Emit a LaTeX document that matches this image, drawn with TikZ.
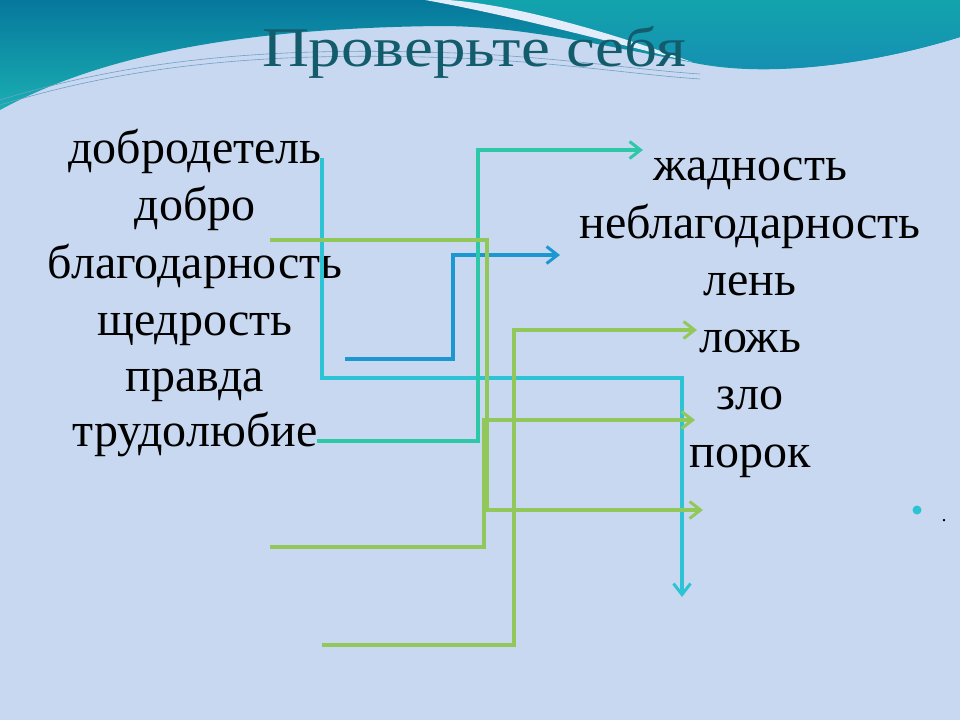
\documentclass[tikz,border=0pt]{standalone}
\usepackage{fontspec}
\setmainfont{Liberation Serif}
\usetikzlibrary{arrows.meta}
\definecolor{bgblue}{RGB}{200,216,240}
\definecolor{seatop}{RGB}{6,120,156}
\definecolor{seabot}{RGB}{26,174,178}
\definecolor{searighttop}{RGB}{18,164,172}
\definecolor{searightbot}{RGB}{22,140,180}
\definecolor{bandwhite}{RGB}{226,236,250}
\definecolor{thinline}{RGB}{110,160,200}
\definecolor{titleteal}{RGB}{18,92,108}
\definecolor{lcyan}{RGB}{44,196,212}
\definecolor{lteal}{RGB}{44,200,168}
\definecolor{lblue}{RGB}{28,152,208}
\definecolor{lgreen}{RGB}{146,200,90}
\begin{document}
\begin{tikzpicture}[x=1pt,y=-1pt,
  word/.style={anchor=base,inner sep=0pt,font=\fontsize{48}{56}\selectfont},
  link/.style={line width=3.5pt,-{Straight Barb[length=11pt,width=17pt,line width=3pt]}}]
\useasboundingbox (0,0) rectangle (960,720);

% background and sea wave
\fill[bgblue] (0,0) rectangle (960,720);
\shade[top color=seatop,bottom color=seabot] (0,0) -- (960,0) -- (960,37)
  .. controls (880,62) and (770,80) .. (690,62)
  .. controls (600,45) and (520,26) .. (440,26)
  .. controls (260,28) and (110,50) .. (0,110) -- cycle;
\shade[top color=searighttop,bottom color=searightbot] (430,0)
  .. controls (520,12) and (620,40) .. (690,60)
  .. controls (770,80) and (880,62) .. (960,37) -- (960,0) -- cycle;
\fill[bandwhite] (425,0) .. controls (520,17) and (620,45) .. (692,62)
  .. controls (620,36) and (520,5) .. (448,0) -- cycle;
\draw[thinline,line width=0.6pt] (0,100) .. controls (150,54) and (300,46) .. (480,54)
  .. controls (580,60) and (640,70) .. (700,74);
\draw[thinline,line width=0.6pt] (0,105) .. controls (150,59) and (300,51) .. (480,59)
  .. controls (580,65) and (640,75) .. (700,79);

\node[anchor=base,inner sep=0pt,text=titleteal,font=\fontsize{56}{64}\selectfont] (title) at (474,66) {\scalebox{1.16}[1]{Проверьте себя}};

% left column
\node[word] (l1) at (195,163) {добродетель};
\node[word] (l2) at (195,220) {добро};
\node[word] (l3) at (195,278) {благодарность};
\node[word] (l4) at (195,335) {щедрость};
\node[word] (l5) at (195,391) {правда};
\node[word] (l6) at (195,446) {трудолюбие};

% right column
\node[word] (r1) at (750,180) {жадность};
\node[word] (r2) at (750,238) {неблагодарность};
\node[word] (r3) at (750,295) {лень};
\node[word] (r4) at (750,352) {ложь};
\node[word] (r5) at (750,409) {зло};
\node[word] (r6) at (750,467) {порок};

\fill[lcyan] (917,510) circle (4.5);
\node[anchor=base,inner sep=0pt,font=\fontsize{20}{24}\selectfont] (dot) at (944,521) {.};

% connectors
\coordinate (a1) at (322,158); \coordinate (a2) at (682,597);
\coordinate (b1) at (317,441); \coordinate (b2) at (643,150);
\coordinate (c1) at (345,359); \coordinate (c2) at (560,255);
\coordinate (d1) at (270,240); \coordinate (d2) at (703,510);
\coordinate (e1) at (270,547); \coordinate (e2) at (695,420);
\coordinate (f1) at (322,645); \coordinate (f2) at (697,330);

\draw[link,lcyan] (a1) -- ++(0,220) -| (a2);
\draw[link,lblue] (c1) -- ++(108,0) |- (c2);
\draw[link,lteal] (b1) -- ++(161,0) |- (b2);
\draw[link,lgreen] (d1) -- ++(217,0) |- (d2);
\draw[link,lgreen] (e1) -- ++(214,0) |- (e2);
\draw[link,lgreen] (f1) -- ++(192,0) |- (f2);
\end{tikzpicture}
\end{document}
